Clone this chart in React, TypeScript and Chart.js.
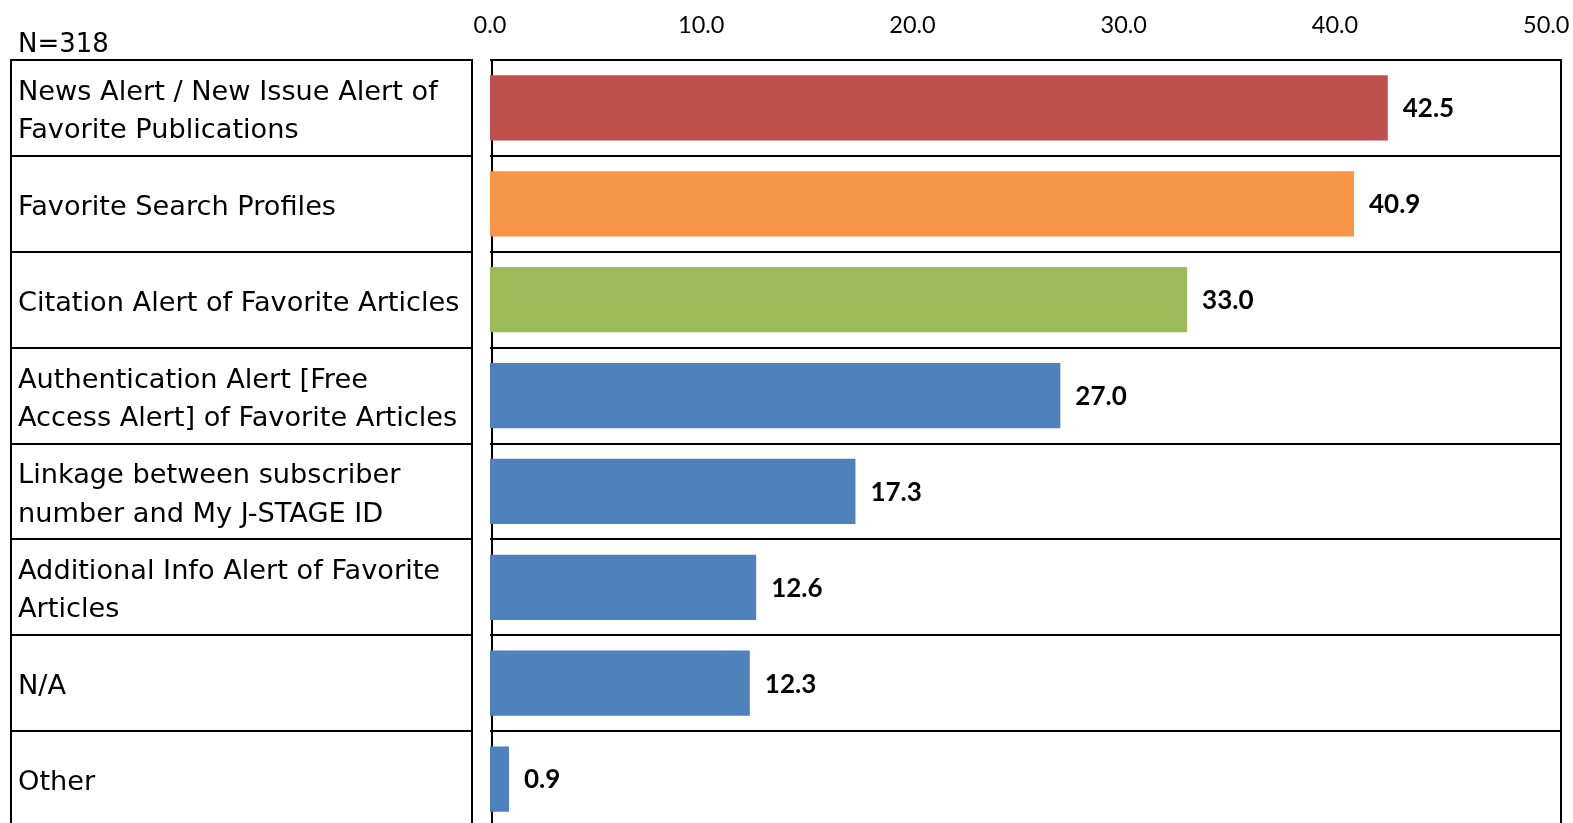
import React, { useEffect, useRef } from 'react';
import { Chart, registerables } from 'chart.js';

Chart.register(...registerables);

const categories: (string | string[])[] = [
  ['News Alert / New Issue Alert of', 'Favorite Publications'],
  'Favorite Search Profiles',
  'Citation Alert of Favorite Articles',
  ['Authentication Alert [Free', 'Access Alert] of Favorite Articles'],
  ['Linkage between subscriber', 'number and My J-STAGE ID'],
  ['Additional Info Alert of Favorite', 'Articles'],
  'N/A',
  'Other',
];
const values = [42.5, 40.9, 33.0, 27.0, 17.3, 12.6, 12.3, 0.9];
const barColors = ['#C0504D', '#F79646', '#9BBB59', '#4F81BD', '#4F81BD', '#4F81BD', '#4F81BD', '#4F81BD'];
const xTicks = [0, 10, 20, 30, 40, 50];
const sampleNote = 'N=318';

const framePlugin = {
  id: 'frame',
  beforeDraw(chart: any) {
    const { ctx, chartArea: a, scales } = chart;
    const y = scales.y;
    const n = categories.length;
    const rowH = (a.bottom - a.top) / n;
    ctx.save();
    ctx.strokeStyle = '#000';
    ctx.lineWidth = 2;
    ctx.beginPath();
    ctx.moveTo(11, a.top);
    ctx.lineTo(11, a.bottom);
    ctx.moveTo(472, a.top);
    ctx.lineTo(472, a.bottom);
    for (let i = 0; i < n; i++) {
      const c = y.getPixelForValue(i);
      const t = Math.round(c - rowH / 2);
      ctx.moveTo(10, t);
      ctx.lineTo(473, t);
    }
    ctx.stroke();
    ctx.restore();
  },
  beforeDatasetsDraw(chart: any) {
    const { ctx, chartArea: a } = chart;
    ctx.save();
    ctx.strokeStyle = '#000';
    ctx.lineWidth = 2;
    ctx.strokeRect(a.left + 2, a.top, a.right - a.left - 2, a.bottom - a.top);
    ctx.restore();
  },
  afterDatasetsDraw(chart: any) {
    const { ctx } = chart;
    const meta = chart.getDatasetMeta(0);
    ctx.save();
    ctx.fillStyle = '#000';
    ctx.font = 'bold 26px Lato';
    ctx.textAlign = 'left';
    ctx.textBaseline = 'middle';
    meta.data.forEach((el: any, i: number) => {
      ctx.fillText(values[i].toFixed(1), el.x + 15, el.y + 1);
    });
    ctx.font = '26px "DejaVu Sans"';
    ctx.textBaseline = 'alphabetic';
    ctx.fillText(sampleNote, 18, 52);
    ctx.restore();
  },
};

export default function App() {
  const ref = useRef<HTMLCanvasElement>(null);
  useEffect(() => {
    if (!ref.current) return;
    const chart = new Chart(ref.current, {
      type: 'bar',
      data: {
        labels: categories,
        datasets: [
          {
            data: values,
            backgroundColor: barColors,
            borderWidth: 0,
            barPercentage: 0.68,
            categoryPercentage: 1,
          },
        ],
      },
      options: {
        indexAxis: 'y',
        animation: false,
        responsive: false,
        maintainAspectRatio: false,
        layout: { padding: { left: 18, right: 12, top: 0, bottom: 0 } },
        plugins: { legend: { display: false }, tooltip: { enabled: false } },
        scales: {
          x: {
            type: 'linear',
            position: 'top',
            min: 0,
            max: 50.7,
            grid: { display: false, drawTicks: false },
            border: { display: false },
            ticks: {
              color: '#000',
              padding: 20,
              font: { family: 'Lato', size: 23.5 },
              callback: (v: any) => Number(v).toFixed(1),
            },
            afterBuildTicks: (s: any) => {
              s.ticks = xTicks.map((v) => ({ value: v }));
            },
            afterFit: (s: any) => {
              s.height = 60;
              s.paddingLeft = 0;
              s.paddingRight = 0;
            },
          },
          y: {
            type: 'category',
            offset: true,
            grid: { color: '#000', lineWidth: 2, drawTicks: false, offset: true },
            border: { display: false },
            ticks: {
              color: '#000',
              crossAlign: 'far',
              padding: 0,
              labelOffset: 4,
              font: { family: 'DejaVu Sans', size: 27.2, lineHeight: 1.4 },
            },
            afterFit: (s: any) => {
              s.width = 472;
              s.paddingTop = 0;
              s.paddingBottom = 0;
            },
          },
        },
      },
      plugins: [framePlugin],
    });
    return () => chart.destroy();
  }, []);
  return (
    <div style={{ position: 'fixed', left: 0, top: 0, width: 1573, height: 823, overflow: 'hidden', background: '#fff' }}>
      <canvas ref={ref} width={1573} height={827} style={{ display: 'block' }} />
    </div>
  );
}
